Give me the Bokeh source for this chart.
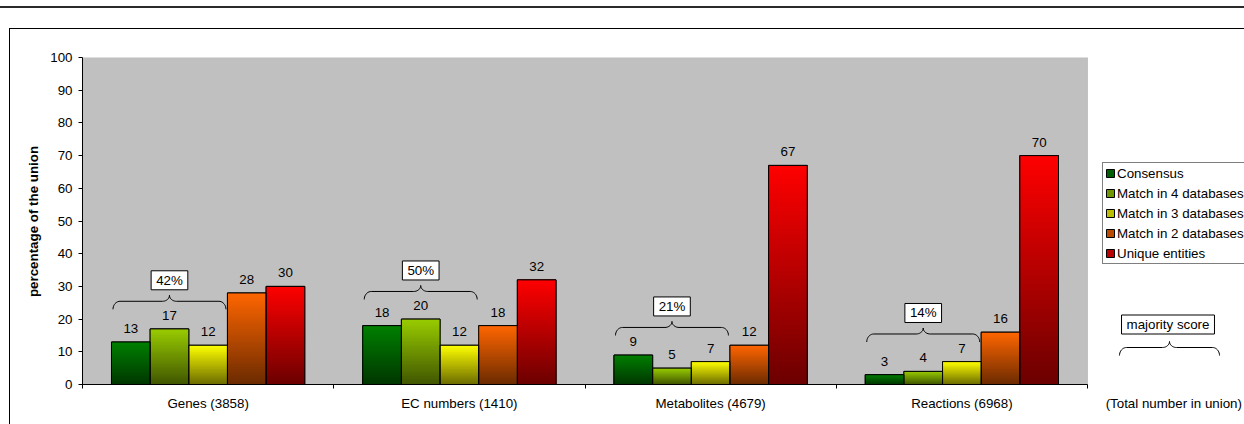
import math
from bokeh.plotting import figure
from bokeh.models import (Range1d, FixedTicker, Legend, LegendItem, Label,
                          BoxAnnotation, ColumnDataSource, InlineStyleSheet)
from bokeh.embed import file_html
from bokeh.resources import INLINE
from bokeh.core.properties import value

# ---------------- data ----------------
categories = ["Genes (3858)", "EC numbers (1410)", "Metabolites (4679)", "Reactions (6968)"]
total_label = "(Total number in union)"
series = ["Consensus", "Match in 4 databases", "Match in 3 databases",
          "Match in 2 databases", "Unique entities"]
consensus = [13, 18, 9, 3]
match4 = [17, 20, 5, 4]
match3 = [12, 12, 7, 7]
match2 = [28, 18, 12, 16]
unique = [30, 32, 67, 70]
majority = ["42%", "50%", "21%", "14%"]
y_ticks = [0, 10, 20, 30, 40, 50, 60, 70, 80, 90, 100]
top_colors = ["#008000", "#99CC00", "#FFFF00", "#FF6600", "#FF0000"]

# ---------------- geometry (pixels) ----------------
W, H = 1244, 424
ML, MT = 82, 57            # frame left / top
FRAME_BOTTOM = 385
PX_X = 251.25              # pixels per category
PX_Y = 3.27                # pixels per percent
FW = W - ML
FH = FRAME_BOTTOM - MT
X0, X1 = 0.0, FW / PX_X
Y1 = 100.0
Y0 = Y1 - FH / PX_Y
FONT = "Liberation Sans"
FS = "13.33px"


def to_dx(px):
    return (px - ML) / PX_X


def to_dy(py):
    return Y1 - (py - MT) / PX_Y


def cx_of(x):
    return ML + x * PX_X


def cy_of(y):
    return MT + (Y1 - y) * PX_Y


def hex2rgb(h):
    h = h.lstrip("#")
    return [int(h[i:i + 2], 16) for i in (0, 2, 4)]


def rgb2hex(c):
    return "#%02x%02x%02x" % tuple(max(0, min(255, int(round(v)))) for v in c)


def mix(a, b, t):
    return rgb2hex([a[i] + (b[i] - a[i]) * t for i in range(3)])


def brace_canvas(cx0, cx1, cyb, r=7, h1=8, r2=7, h2=6, n=10):
    mid = (cx0 + cx1) / 2.0
    half = []
    for k in range(n + 1):
        t = k / n * math.pi / 2
        half.append((cx0 + r * (1 - math.cos(t)), cyb - h1 * math.sin(t)))
    for k in range(n + 1):
        t = k / n * math.pi / 2
        half.append((mid - r2 + r2 * math.sin(t), cyb - h1 - h2 * (1 - math.cos(t))))
    other = [(2 * mid - x, y) for (x, y) in reversed(half[:-1])]
    pts = half + other
    return [to_dx(x) for x, _ in pts], [to_dy(y) for _, y in pts]


css = """
:host { position: relative; }
:host::before { content: ""; position: absolute; left: 0; right: 0; top: 6px; height: 2px;
  background: #2a2a2a; z-index: 10; pointer-events: none; }
:host::after { content: ""; position: absolute; left: 9px; top: 28px; right: 0; bottom: 0;
  border-left: 1px solid #000; border-top: 1px solid #000; z-index: 10; pointer-events: none; }
"""

p = figure(width=W, height=H, output_backend="svg", toolbar_location=None,
           x_range=Range1d(X0, X1), y_range=Range1d(Y0, Y1), title=None,
           min_border_left=ML, min_border_right=0, min_border_top=MT,
           min_border_bottom=H - FRAME_BOTTOM)
p.stylesheets = [InlineStyleSheet(css=css)]
p.background_fill_color = "white"
p.border_fill_color = "white"
p.outline_line_color = None
p.xgrid.visible = False
p.ygrid.visible = False

ncat = len(categories)
# plot area
p.add_layout(BoxAnnotation(left=0, right=ncat, bottom=0, top=100, fill_color="#C0C0C0",
                           fill_alpha=1, line_color="#808080", line_width=1, level="underlay"))

# axes
centers = [i + 0.5 for i in range(ncat)]
total_x = to_dx(1173.3)
bounds = [float(i) for i in range(ncat + 1)]
p.xaxis.ticker = FixedTicker(ticks=centers + [total_x], minor_ticks=bounds)
overrides = {c: lab for c, lab in zip(centers, categories)}
overrides[total_x] = total_label
p.xaxis.major_label_overrides = overrides
p.xaxis.axis_line_color = None
p.xaxis.major_tick_line_color = None
p.xaxis.major_tick_out = 0
p.xaxis.major_tick_in = 0
p.xaxis.minor_tick_out = 3
p.xaxis.minor_tick_in = 1
p.xaxis.minor_tick_line_color = "black"
p.xaxis.major_label_standoff = 7
p.yaxis.ticker = FixedTicker(ticks=y_ticks)
p.yaxis.axis_line_color = "black"
p.yaxis.major_tick_line_color = "black"
p.yaxis.minor_tick_line_color = None
p.yaxis.major_tick_out = 4
p.yaxis.major_tick_in = 0
p.yaxis.major_label_standoff = 6
p.yaxis.axis_label = "percentage of the union"
p.yaxis.axis_label_standoff = 6
p.yaxis.axis_label_text_font_style = "bold"
for ax in (p.xaxis, p.yaxis):
    ax.major_label_text_font = FONT
    ax.major_label_text_font_size = FS
    ax.major_label_text_color = "black"
    ax.axis_label_text_font = FONT
    ax.axis_label_text_font_size = FS
    ax.axis_label_text_color = "black"

# bars: base quad per series (used for the legend swatch), gradient slices, outline
values = [consensus, match4, match3, match2, unique]
nser = len(series)
w = 1.0 / 6.5
N = 48
sl = dict(left=[], right=[], top=[], bottom=[], color=[])
ol = dict(left=[], right=[], top=[], bottom=[])
lab = dict(x=[], y=[], text=[])
items = []
for j, (vals, ctop) in enumerate(zip(values, top_colors)):
    ct = hex2rgb(ctop)
    cb = [v * 0.42 for v in ct]
    lefts = [i + 0.5 + (j - nser / 2.0) * w for i in range(ncat)]
    base_r = p.quad(left=lefts, right=[l + w for l in lefts], top=vals,
                    bottom=[0] * ncat, fill_color=mix(cb, ct, 0.55), line_color="black",
                    line_width=1)
    items.append(LegendItem(label=series[j], renderers=[base_r]))
    for i, v in enumerate(vals):
        left = lefts[i]
        for k in range(N):
            frac = (N - k) / N
            sl["left"].append(left)
            sl["right"].append(left + w)
            sl["bottom"].append(0)
            sl["top"].append(v * frac)
            sl["color"].append(mix(cb, ct, frac - 0.5 / N))
        ol["left"].append(left)
        ol["right"].append(left + w)
        ol["top"].append(v)
        ol["bottom"].append(0)
        lab["x"].append(left + w / 2)
        lab["y"].append(v)
        lab["text"].append(str(v))

p.quad(left="left", right="right", top="top", bottom="bottom", fill_color="color",
       line_color=None, source=ColumnDataSource(sl))
p.quad(left="left", right="right", top="top", bottom="bottom", fill_color=None,
       line_color="black", line_width=1, source=ColumnDataSource(ol))
p.segment(x0=[0], y0=[0], x1=[ncat], y1=[0], line_color="black", line_width=1)
p.text(x="x", y="y", text="text", source=ColumnDataSource(lab), text_align="center",
       text_baseline="bottom", y_offset=-9, text_font=value(FONT),
       text_font_size=FS, text_color="black")

# braces + majority-score boxes
bx, by = [], []
for i in range(ncat):
    gl = i + 0.5 - nser / 2.0 * w
    cx0 = cx_of(gl) + 1.5
    cx1 = cx_of(gl + 3 * w) - 1.5
    base = max(consensus[i], match4[i], match3[i]) + 6
    cyb = cy_of(base)
    xs, ys = brace_canvas(cx0, cx1, cyb)
    bx.append(xs)
    by.append(ys)
    p.add_layout(Label(x=to_dx((cx0 + cx1) / 2), y=to_dy(cyb - 29), text=majority[i],
                       text_align="center", text_baseline="middle",
                       text_font=FONT, text_font_size=FS, text_color="black",
                       background_fill_color="white", border_line_color="black",
                       border_line_width=1, padding=(5, 2)))

# right side explanation: brace + box
xs, ys = brace_canvas(1119, 1219, 355)
bx.append(xs)
by.append(ys)
p.multi_line(xs=bx, ys=by, line_color="black", line_width=1)
p.add_layout(Label(x=to_dx(1167.5), y=to_dy(324), text="majority score",
                   text_align="center", text_baseline="middle", text_font=FONT,
                   text_font_size=FS, text_color="black", background_fill_color="white",
                   border_line_color="black", border_line_width=1, padding=(5, 2)))

# legend
legend = Legend(items=items, location=(1020, FRAME_BOTTOM - 264), glyph_width=10,
                glyph_height=10, label_standoff=2, padding=2, spacing=4, label_height=16,
                margin=0, border_line_color="black", border_line_width=1,
                background_fill_color="white", background_fill_alpha=1,
                label_text_font=FONT, label_text_font_size=FS, label_text_color="black")
p.add_layout(legend)

open("out.html", "w").write(file_html(p, INLINE))
